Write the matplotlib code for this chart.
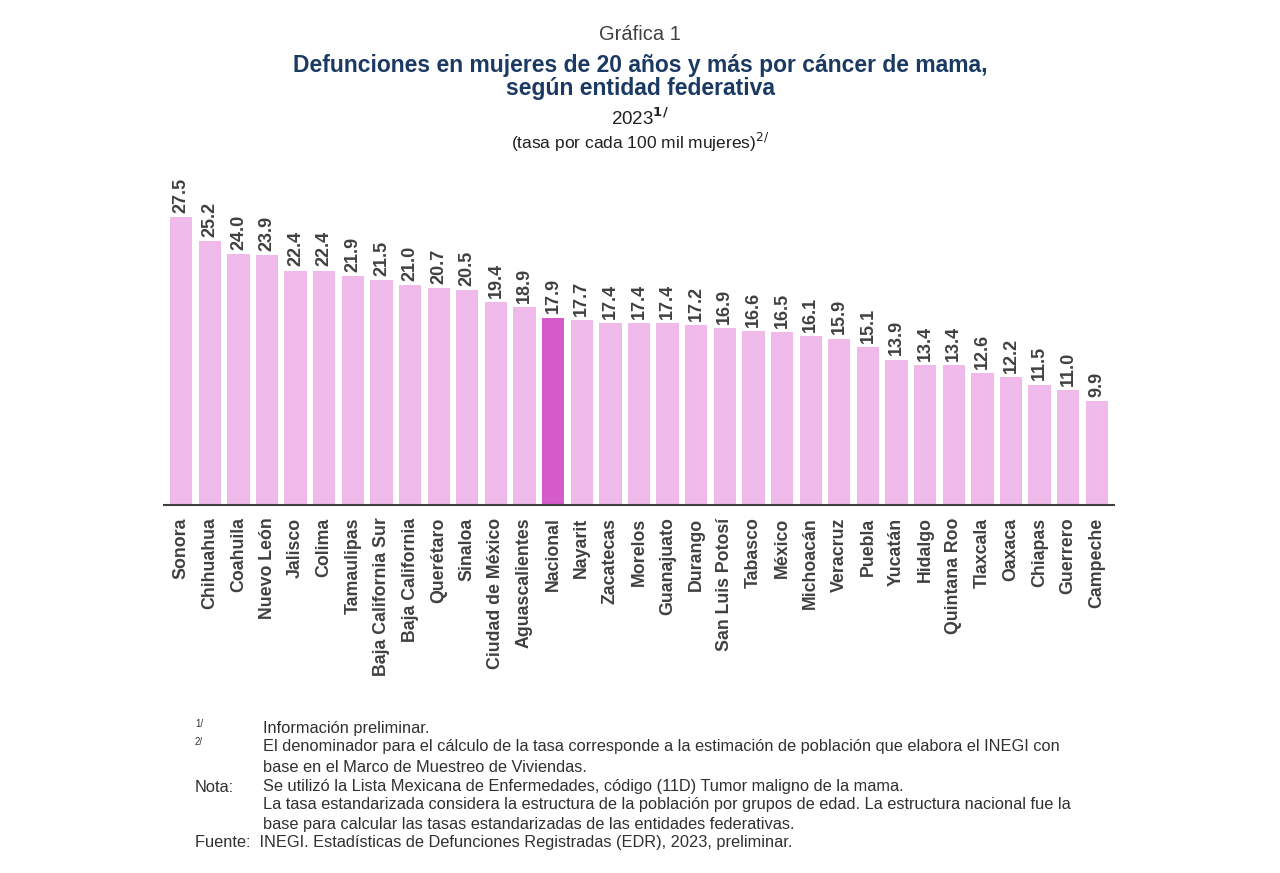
import matplotlib
matplotlib.use("Agg")
import matplotlib.pyplot as plt

states = ["Sonora","Chihuahua","Coahuila","Nuevo León","Jalisco","Colima","Tamaulipas",
          "Baja California Sur","Baja California","Querétaro","Sinaloa","Ciudad de México",
          "Aguascalientes","Nacional","Nayarit","Zacatecas","Morelos","Guanajuato","Durango",
          "San Luis Potosí","Tabasco","México","Michoacán","Veracruz","Puebla","Yucatán",
          "Hidalgo","Quintana Roo","Tlaxcala","Oaxaca","Chiapas","Guerrero","Campeche"]
rates = [27.5,25.2,24.0,23.9,22.4,22.4,21.9,21.5,21.0,20.7,20.5,19.4,18.9,17.9,17.7,17.4,
         17.4,17.4,17.2,16.9,16.6,16.5,16.1,15.9,15.1,13.9,13.4,13.4,12.6,12.2,11.5,11.0,9.9]

plt.rcParams['font.family'] = ['Liberation Sans', 'DejaVu Sans']
fig = plt.figure(figsize=(12.8, 8.73), dpi=100)
ax = fig.add_axes([164/1280, 368/873, 950/1280, 314/873])
colors = ["#D45BC9" if s == "Nacional" else "#EFB9E9" for s in states]
x = range(len(states))
ax.bar(x, rates, width=0.78, color=colors)
ax.set_xlim(-0.6, len(states) - 0.4)
ax.set_ylim(0, 30)
for i, v in zip(x, rates):
    ax.text(i, v + 0.4, f"{v:.1f}", rotation=90, ha="center", va="bottom",
            fontsize=13, fontweight="bold", color="#404040")
ax.set_xticks(list(x))
ax.set_xticklabels(states, rotation=90, fontsize=12.8, fontweight="bold", color="#404040")
ax.tick_params(axis="x", length=0, pad=9)
ax.set_yticks([])
for s in ["top", "right", "left"]:
    ax.spines[s].set_visible(False)
ax.spines["bottom"].set_color("#404040")
ax.spines["bottom"].set_linewidth(1.5)

fig.text(0.5, 1 - 35/873, "Gráfica 1", ha="center", va="center", fontsize=14.5, color="#404040")
fig.text(0.5, 1 - 77/873, "Defunciones en mujeres de 20 años y más por cáncer de mama,\nsegún entidad federativa",
         ha="center", va="center", fontsize=16.5, fontweight="bold", color="#1B3A63", linespacing=1.05)
fig.text(0.5, 1 - 118/873, "2023$^{\\mathbf{1/}}$", ha="center", va="center", fontsize=13.5, color="#202020")
fig.text(0.5, 1 - 142/873, "(tasa por cada 100 mil mujeres)$^{2/}$", ha="center", va="center", fontsize=12.5, color="#202020")

fs = 11.8
c = "#303030"
def t(xp, yp, s, size=fs):
    fig.text(xp/1280, 1 - yp/873, s, fontsize=size, color=c, va="center", ha="left")
t(195, 724, "1/", 7)
t(263, 729, "Información preliminar.")
t(195, 742, "2/", 7)
t(263, 747, "El denominador para el cálculo de la tasa corresponde a la estimación de población que elabora el INEGI con")
t(263, 767, "base en el Marco de Muestreo de Viviendas.")
t(195, 787, "Nota:")
t(263, 787, "Se utilizó la Lista Mexicana de Enfermedades, código (11D) Tumor maligno de la mama.")
t(263, 805, "La tasa estandarizada considera la estructura de la población por grupos de edad. La estructura nacional fue la")
t(263, 824, "base para calcular las tasas estandarizadas de las entidades federativas.")
t(195, 843, "Fuente:  INEGI. Estadísticas de Defunciones Registradas (EDR), 2023, preliminar.")

fig.savefig("out.png", dpi=100)
